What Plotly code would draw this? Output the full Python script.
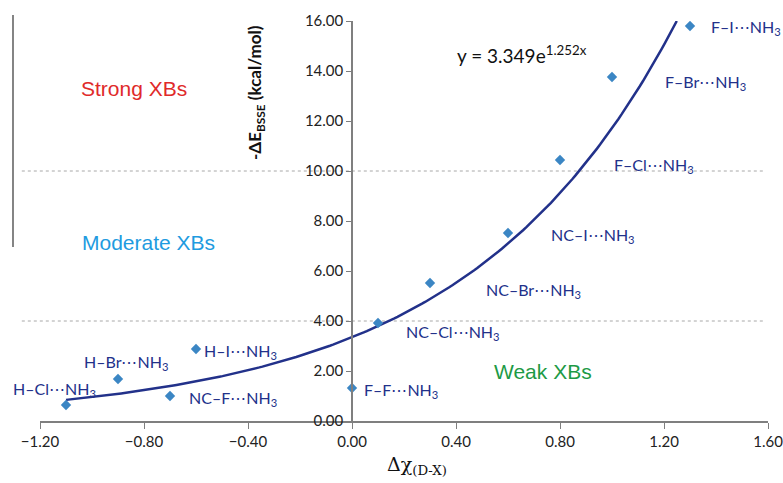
import numpy as np
import plotly.graph_objects as go

# ---- data ----
labels = ["H–Cl⋯NH<sub>3</sub>", "H–Br⋯NH<sub>3</sub>", "H–I⋯NH<sub>3</sub>", "NC–F⋯NH<sub>3</sub>",
          "F–F⋯NH<sub>3</sub>", "NC–Cl⋯NH<sub>3</sub>", "NC–Br⋯NH<sub>3</sub>", "NC–I⋯NH<sub>3</sub>",
          "F–Cl⋯NH<sub>3</sub>", "F–Br⋯NH<sub>3</sub>", "F–I⋯NH<sub>3</sub>"]
dchi = [-1.1, -0.9, -0.6, -0.7, 0.0, 0.1, 0.3, 0.6, 0.8, 1.0, 1.3]
energy = [0.64, 1.68, 2.88, 1.00, 1.32, 3.92, 5.52, 7.52, 10.44, 13.76, 15.80]
fit_a = 3.349
fit_b = 1.252
x_ticks = [-1.2, -0.8, -0.4, 0.0, 0.4, 0.8, 1.2, 1.6]
y_ticks = [0, 2, 4, 6, 8, 10, 12, 14, 16]
thresholds = [10.0, 4.0]

# label offsets in pixels (xshift, yshift)
label_shifts = [(-55, 16), (-36, 17), (6, -2), (17, -2), (10, -2), (26, -9),
                (54, -7), (41, -2), (52, -5), (51, -5), (19, -1)]

XMIN, XMAX = -1.2, 1.6
YMIN, YMAX = 0, 16

x_end = np.log(YMAX / fit_a) / fit_b
xf = np.linspace(min(dchi), x_end, 200)
yf = fit_a * np.exp(fit_b * xf)

navy = "#22318a"
font_main = "Lato, Open Sans, sans-serif"

def px(xp):
    return (xp - 40) / 728

def py(yp):
    return (421 - yp) / 400

fig = go.Figure()
fig.add_trace(go.Scatter(x=xf, y=yf, mode="lines", line=dict(color=navy, width=2.5),
                         hoverinfo="skip", cliponaxis=True))
fig.add_trace(go.Scatter(x=dchi, y=energy, mode="markers",
                         marker=dict(symbol="diamond", size=8, color="#3b86c4")))

for lab, x, y, (dx, dy) in zip(labels, dchi, energy, label_shifts):
    fig.add_annotation(x=x, y=y, text=lab, showarrow=False, xanchor="left", yanchor="middle",
                       xshift=dx, yshift=dy, font=dict(family=font_main, size=16, color=navy))

for t in thresholds:
    fig.add_shape(type="line", xref="paper", yref="y", x0=-0.025, x1=0.996, y0=t, y1=t,
                  line=dict(color="#a8a8a8", width=1, dash="dot"), layer="below")

# left vertical bar
fig.add_shape(type="line", xref="paper", yref="paper", x0=px(13), x1=px(13),
              y0=py(247), y1=py(15), line=dict(color="#333333", width=1.2))

region_font = "Liberation Sans, Arial, sans-serif"
fig.add_annotation(xref="paper", yref="paper", x=px(134), y=py(88), xanchor="center", yanchor="middle",
                   text="Strong XBs", showarrow=False, font=dict(family=region_font, size=21, color="#e02a2a"))
fig.add_annotation(xref="paper", yref="paper", x=px(148), y=py(243), xanchor="center", yanchor="middle",
                   text="Moderate XBs", showarrow=False, font=dict(family=region_font, size=21, color="#1e9be0"))
fig.add_annotation(xref="paper", yref="paper", x=px(543), y=py(371), xanchor="center", yanchor="middle",
                   text="Weak XBs", showarrow=False, font=dict(family=region_font, size=21, color="#1d9a45"))

fig.add_annotation(xref="paper", yref="paper", x=px(455), y=py(55), xanchor="left", yanchor="middle",
                   text="y = %.3fe<sup>%.3fx</sup>" % (fit_a, fit_b), showarrow=False,
                   font=dict(family=font_main, size=19, color="#111111"))

fig.add_annotation(xref="paper", yref="paper", x=px(256), y=py(93), xanchor="center", yanchor="middle",
                   text="<b>-ΔE<sub>BSSE</sub> (kcal/mol)</b>", textangle=-90, showarrow=False,
                   font=dict(family=font_main, size=17, color="#111111"))
fig.add_annotation(xref="paper", yref="paper", x=px(385), y=py(465), xanchor="left", yanchor="middle",
                   text="Δχ<sub>(D-X)</sub>", showarrow=False,
                   font=dict(family="DejaVu Serif, serif", size=19, color="#111111"))

fig.update_layout(
    width=783, height=483, margin=dict(l=40, r=15, t=21, b=62),
    paper_bgcolor="white", plot_bgcolor="white", showlegend=False,
    xaxis=dict(range=[XMIN, XMAX], tickvals=x_ticks, tickformat=".2f", showgrid=False, zeroline=False,
               showline=True, linecolor="#7f7f7f", linewidth=1.5, ticks="outside", ticklen=6,
               tickcolor="#7f7f7f", ticklabeloverflow="allow", automargin=False,
               tickfont=dict(family=font_main, size=15, color="#222222")),
    yaxis=dict(range=[YMIN, YMAX], tickvals=y_ticks, tickformat=".2f", showgrid=False, zeroline=False,
               showline=True, linecolor="#7f7f7f", linewidth=1.5, ticks="outside", ticklen=5,
               tickcolor="#7f7f7f", anchor="free", position=(0 - XMIN) / (XMAX - XMIN),
               automargin=False, tickfont=dict(family=font_main, size=15, color="#222222")),
)

fig.write_html("out.html")
